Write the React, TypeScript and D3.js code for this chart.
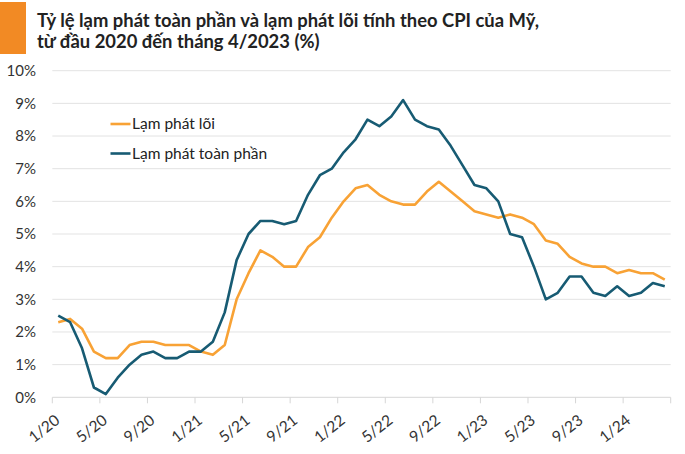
import React from "react";
import * as d3 from "d3";

const months: string[] = [
  "1/20","2/20","3/20","4/20","5/20","6/20","7/20","8/20","9/20","10/20","11/20","12/20",
  "1/21","2/21","3/21","4/21","5/21","6/21","7/21","8/21","9/21","10/21","11/21","12/21",
  "1/22","2/22","3/22","4/22","5/22","6/22","7/22","8/22","9/22","10/22","11/22","12/22",
  "1/23","2/23","3/23","4/23","5/23","6/23","7/23","8/23","9/23","10/23","11/23","12/23",
  "1/24","2/24","3/24","4/24",
];

const coreInflation: number[] = [
  2.3, 2.4, 2.1, 1.4, 1.2, 1.2, 1.6, 1.7, 1.7, 1.6, 1.6, 1.6,
  1.4, 1.3, 1.6, 3.0, 3.8, 4.5, 4.3, 4.0, 4.0, 4.6, 4.9, 5.5,
  6.0, 6.4, 6.5, 6.2, 6.0, 5.9, 5.9, 6.3, 6.6, 6.3, 6.0, 5.7,
  5.6, 5.5, 5.6, 5.5, 5.3, 4.8, 4.7, 4.3, 4.1, 4.0, 4.0, 3.8,
  3.9, 3.8, 3.8, 3.6,
];

const headlineInflation: number[] = [
  2.5, 2.3, 1.5, 0.3, 0.1, 0.6, 1.0, 1.3, 1.4, 1.2, 1.2, 1.4,
  1.4, 1.7, 2.6, 4.2, 5.0, 5.4, 5.4, 5.3, 5.4, 6.2, 6.8, 7.0,
  7.5, 7.9, 8.5, 8.3, 8.6, 9.1, 8.5, 8.3, 8.2, 7.7, 7.1, 6.5,
  6.4, 6.0, 5.0, 4.9, 4.0, 3.0, 3.2, 3.7, 3.7, 3.2, 3.1, 3.4,
  3.1, 3.2, 3.5, 3.4,
];

const tickLabels: string[] = ["1/20","5/20","9/20","1/21","5/21","9/21","1/22","5/22","9/22","1/23","5/23","9/23","1/24"];
const yTicks: number[] = [0,1,2,3,4,5,6,7,8,9,10];

const seriesNames = ["Lạm phát lõi", "Lạm phát toàn phần"];
const titleLines = [
  "Tỷ lệ lạm phát toàn phần và lạm phát lõi tính theo CPI của Mỹ,",
  "từ đầu 2020 đến tháng 4/2023 (%)",
];

const W = 685, H = 454;
const ORANGE = "#F8A235";
const TEAL = "#175B73";
const FONT = "Lato, 'Open Sans', sans-serif";

export default function App() {
  const x = d3.scaleBand<string>().domain(months).range([52.3, 670.7]).padding(0);
  const y = d3.scaleLinear().domain([0, 10]).range([397.3, 70.7]);
  const cx = (m: string) => (x(m) as number) + x.bandwidth() / 2;

  const line = d3.line<number>()
    .x((_, i) => cx(months[i]))
    .y((v) => y(v));

  const tickPositions: number[] = [];
  for (let i = 0; i < months.length; i += 4) tickPositions.push(x(months[i]) as number);
  tickPositions.push(x.range()[1]);

  return (
    <svg width={W} height={H} style={{ position: "absolute", left: 0, top: 0, background: "#fff" }} fontFamily={FONT}>
      <rect x={0} y={2} width={26} height={52} fill="#F28A24" />
      {titleLines.map((t, i) => (
        <text key={i} x={37} y={26.5 + i * 21.5} fontSize={18.4} fontWeight={700} fill="#222">{t}</text>
      ))}
      {yTicks.map((v) => (
        <g key={v}>
          {v > 0 && <line x1={x.range()[0]} x2={x.range()[1]} y1={y(v)} y2={y(v)} stroke="#e3e3e3" strokeWidth={1} />}
          <text x={36} y={y(v)} dy="0.35em" textAnchor="end" fontSize={15} fill="#333">{v}%</text>
        </g>
      ))}
      <line x1={x.range()[0]} x2={x.range()[1]} y1={y(0)} y2={y(0)} stroke="#d6d6d6" strokeWidth={1} />
      {tickPositions.map((p, i) => (
        <line key={i} x1={p} x2={p} y1={y(0)} y2={y(0) + 6} stroke="#d6d6d6" strokeWidth={1} />
      ))}
      {tickLabels.map((lab) => {
        const px = cx(lab) + 2.5;
        const py = y(0) + 25;
        return (
          <text key={lab} x={px} y={py} textAnchor="end" fontSize={15.5} fill="#333" transform={`rotate(-38 ${px} ${py})`}>{lab}</text>
        );
      })}
      <path d={line(coreInflation) || ""} fill="none" stroke={ORANGE} strokeWidth={2.6} strokeLinejoin="round" />
      <path d={line(headlineInflation) || ""} fill="none" stroke={TEAL} strokeWidth={2.6} strokeLinejoin="round" />
      {[ORANGE, TEAL].map((c, i) => (
        <g key={i}>
          <line x1={110.5} x2={130.5} y1={124 + i * 29.5} y2={124 + i * 29.5} stroke={c} strokeWidth={2.6} />
          <text x={132} y={124 + i * 29.5} dy="0.35em" fontSize={15.5} fill="#222">{seriesNames[i]}</text>
        </g>
      ))}
    </svg>
  );
}
